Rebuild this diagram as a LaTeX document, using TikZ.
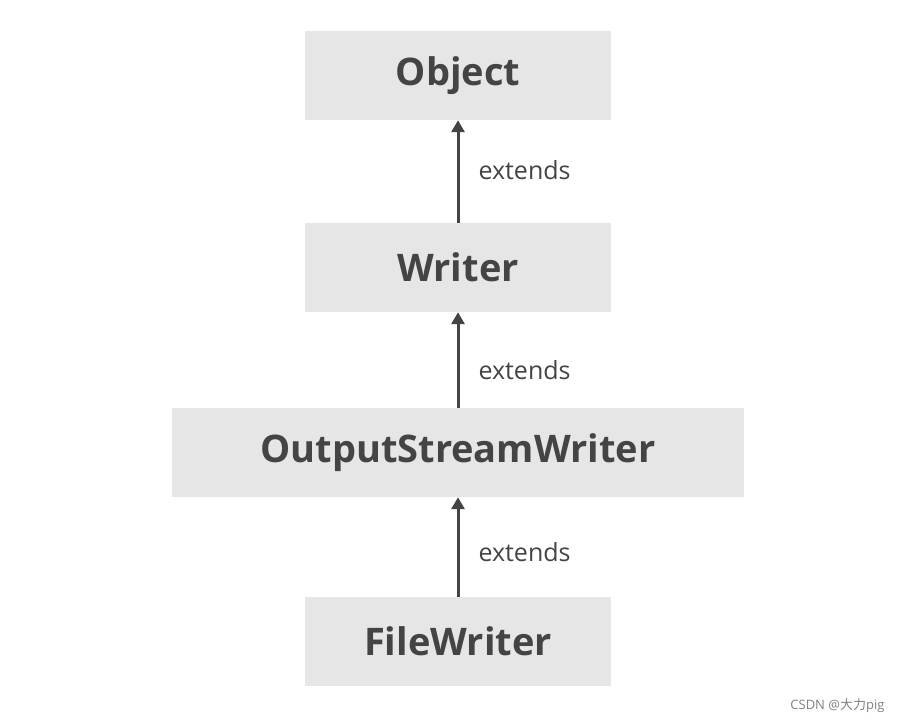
\documentclass[tikz,border=0pt]{standalone}
\usepackage{fontspec}
\setmainfont{Open Sans}
\newfontfamily\cjk{Noto Sans CJK SC}
\usetikzlibrary{arrows.meta,positioning}
\definecolor{boxgray}{HTML}{E6E6E6}
\definecolor{inkgray}{HTML}{444444}
\begin{document}
\begin{tikzpicture}
[x=1pt,y=-1pt,
classbox/.style={fill=boxgray,inner sep=0pt,minimum height=89pt,text=inkgray,font=\fontsize{38}{44}\selectfont\bfseries},
smallbox/.style={classbox,minimum width=306pt},
widebox/.style={classbox,minimum width=572pt},
extarrow/.style={-{Triangle[length=12pt,width=13pt]},line width=3pt,draw=inkgray},
extlabel/.style={text=inkgray,font=\fontsize{25}{30}\selectfont,anchor=west}]
\useasboundingbox (0,0) rectangle (902,723);
%%
\node (obj) [smallbox] at (458,75.5) {Object};
\node (wri) [smallbox] at (458,267.5) {Writer};
\node (osw) [widebox] at (458,452.5) {OutputStreamWriter};
\node (fwr) [smallbox] at (458,641.5) {FileWriter};
%%
\draw[extarrow] (wri.north) -- (obj.south);
\draw[extarrow] (osw.north) -- (wri.south);
\draw[extarrow] (fwr.north) -- (osw.south);
\node (e1) [extlabel] at (475,170) {extends};
\node (e2) [extlabel] at (475,370) {extends};
\node (e3) [extlabel] at (475,552) {extends};
%%
\node (mark) [text=gray,font=\fontsize{13}{15}\selectfont,anchor=east] at (888,706) {CSDN @{\cjk 大力}pig};
\end{tikzpicture}
\end{document}
